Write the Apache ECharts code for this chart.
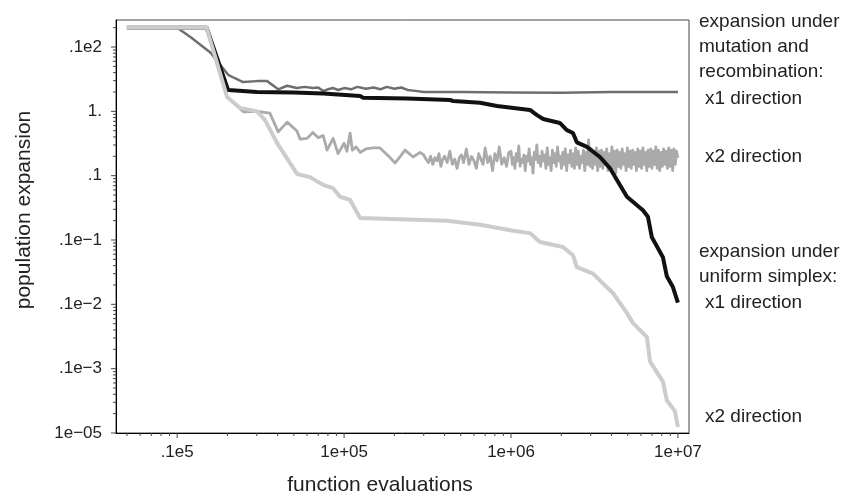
<!DOCTYPE html>
<html>
<head>
<meta charset="utf-8">
<script src="https://cdn.jsdelivr.net/npm/echarts@6/dist/echarts.min.js"></script>
<style>
html,body{margin:0;padding:0;background:#fff;}
#chart{width:846px;height:494px;}
</style>
</head>
<body>
<div id="chart"></div>
<script>
// ---- tick labels ----
const xTickValues = [1e4, 1e5, 1e6, 1e7];
const xTickLabels = ['.1e5', '1e+05', '1e+06', '1e+07'];
const yTickValues = [10, 1, 0.1, 0.01, 0.001, 1e-4, 1e-5];
const yTickLabels = ['.1e2', '1.', '.1', '.1e\u22121', '.1e\u22122', '.1e\u22123', '1e\u221205'];

// ---- series: x1 direction, mutation and recombination (dark gray) ----
const mutX1Evals = [5000, 10000, 12000, 15800, 20200, 22000, 24800, 30000, 34600, 40300, 45600, 52000,
  58000, 65000, 70000, 75000, 80000, 86000, 92000, 100000, 110000, 120000, 135000, 150000,
  165000, 180000, 200000, 220000, 240000, 260000, 300000, 500000, 1000000, 2000000, 4000000, 7000000, 10000000];
const mutX1Values = [20, 20, 14.3, 8.2, 3.7, 3.3, 2.85, 2.95, 2.95, 2.2, 2.5, 2.3,
  2.4, 2.3, 2.35, 2.07, 2.2, 2.3, 2.15, 2.3, 2.2, 2.4, 2.25, 2.35,
  2.2, 2.4, 2.25, 2.35, 2.15, 2.1, 2.0, 2.0, 1.97, 1.95, 2.0, 2.0, 2.0];

// ---- series: x2 direction, mutation and recombination (medium gray) ----
const mutX2EarlyEvals = [5000, 15000, 19900, 23800, 25000, 30000, 35900, 40300, 45600, 52000, 54600, 60000,
  65000, 70000, 75000, 79000, 86000, 92000, 100000, 104000, 108600, 112000, 118000, 125000,
  135000, 150000, 164000, 185000, 202000, 232000, 259000, 285000];
const mutX2EarlyValues = [20, 20, 1.67, 1.1, 0.98, 1.0, 0.94, 0.48, 0.68, 0.5, 0.37, 0.38,
  0.47, 0.39, 0.42, 0.25, 0.38, 0.22, 0.32, 0.24, 0.46, 0.25, 0.28, 0.23,
  0.26, 0.27, 0.27, 0.2, 0.157, 0.25, 0.195, 0.23];
const mutX2MidEvals = [3.0e5, 3.1e5, 3.2e5, 3.3e5, 3.4e5, 3.5e5, 3.6e5, 3.7e5, 3.8e5, 3.9e5,
  4.0e5, 4.15e5, 4.3e5, 4.45e5, 4.6e5, 4.75e5, 4.9e5, 5.05e5, 5.2e5, 5.4e5,
  5.6e5, 5.8e5, 6.0e5, 6.2e5, 6.4e5, 6.6e5, 6.8e5, 7.0e5, 7.25e5, 7.5e5,
  7.75e5, 8.0e5, 8.25e5, 8.5e5, 8.8e5, 9.1e5, 9.4e5, 9.7e5];
const mutX2MidValues = [0.21, 0.18, 0.16, 0.2, 0.15, 0.19, 0.17, 0.22, 0.14, 0.18,
  0.2, 0.16, 0.24, 0.15, 0.18, 0.13, 0.19, 0.21, 0.16, 0.26,
  0.15, 0.2, 0.17, 0.13, 0.22, 0.18, 0.15, 0.27, 0.16, 0.2,
  0.12, 0.22, 0.17, 0.28, 0.15, 0.19, 0.14, 0.23];
const mutX2LateEvals = [
  1.000e6, 1.018e6, 1.036e6, 1.055e6, 1.074e6, 1.093e6, 1.113e6, 1.133e6, 1.153e6, 1.174e6,
  1.195e6, 1.217e6, 1.239e6, 1.261e6, 1.284e6, 1.307e6, 1.330e6, 1.354e6, 1.378e6, 1.403e6,
  1.428e6, 1.454e6, 1.480e6, 1.507e6, 1.534e6, 1.562e6, 1.590e6, 1.619e6, 1.648e6, 1.678e6,
  1.708e6, 1.739e6, 1.770e6, 1.802e6, 1.834e6, 1.867e6, 1.901e6, 1.935e6, 1.970e6, 2.005e6,
  2.041e6, 2.078e6, 2.116e6, 2.154e6, 2.193e6, 2.232e6, 2.272e6, 2.313e6, 2.355e6, 2.397e6,
  2.440e6, 2.484e6, 2.529e6, 2.574e6, 2.621e6, 2.668e6, 2.716e6, 2.765e6, 2.814e6, 2.865e6,
  2.917e6, 2.969e6, 3.023e6, 3.077e6, 3.132e6, 3.189e6, 3.246e6, 3.305e6, 3.364e6, 3.425e6,
  3.486e6, 3.549e6, 3.613e6, 3.678e6, 3.744e6, 3.811e6, 3.880e6, 3.950e6, 4.021e6, 4.093e6,
  4.167e6, 4.242e6, 4.318e6, 4.396e6, 4.475e6, 4.555e6, 4.637e6, 4.721e6, 4.806e6, 4.892e6,
  4.980e6, 5.070e6, 5.161e6, 5.254e6, 5.349e6, 5.445e6, 5.543e6, 5.643e6, 5.744e6, 5.848e6,
  5.953e6, 6.060e6, 6.169e6, 6.280e6, 6.393e6, 6.508e6, 6.625e6, 6.745e6, 6.866e6, 6.990e6,
  7.115e6, 7.244e6, 7.374e6, 7.507e6, 7.642e6, 7.779e6, 7.919e6, 8.062e6, 8.207e6, 8.355e6,
  8.505e6, 8.658e6, 8.814e6, 8.973e6, 9.134e6, 9.299e6, 9.466e6, 9.636e6, 9.810e6, 1.0e7];
const mutX2LateValues = [
  0.24, 0.15, 0.19, 0.13, 0.22, 0.17, 0.29, 0.14, 0.18, 0.16,
  0.21, 0.12, 0.2, 0.17, 0.26, 0.15, 0.19, 0.11, 0.23, 0.18,
  0.3, 0.16, 0.2, 0.14, 0.24, 0.17, 0.21, 0.13, 0.27, 0.15,
  0.19, 0.12, 0.25, 0.16, 0.22, 0.14, 0.28, 0.17, 0.2, 0.13,
  0.23, 0.15, 0.26, 0.12, 0.21, 0.16, 0.25, 0.14, 0.22, 0.13,
  0.27, 0.15, 0.24, 0.13, 0.2, 0.16, 0.25, 0.12, 0.23, 0.15,
  0.36, 0.14, 0.26, 0.13, 0.22, 0.15, 0.27, 0.12, 0.24, 0.14,
  0.25, 0.13, 0.23, 0.15, 0.26, 0.12, 0.22, 0.14, 0.28, 0.13,
  0.24, 0.11, 0.25, 0.14, 0.23, 0.13, 0.26, 0.15, 0.22, 0.12,
  0.27, 0.14, 0.24, 0.13, 0.25, 0.15, 0.23, 0.12, 0.26, 0.14,
  0.24, 0.13, 0.27, 0.15, 0.23, 0.12, 0.25, 0.14, 0.26, 0.13,
  0.24, 0.15, 0.28, 0.13, 0.25, 0.12, 0.23, 0.14, 0.26, 0.15,
  0.24, 0.13, 0.27, 0.14, 0.25, 0.12, 0.26, 0.15, 0.24, 0.19];

// ---- series: x1 direction, uniform simplex (black) ----
const uniX1Evals = [5000, 15000, 20200, 30000, 50000, 74900, 124700, 130000, 238000, 431000, 450000,
  652000, 824000, 1300000, 1430000, 1560000, 1960000, 2160000, 2350000, 2480000, 2850000,
  3410000, 3920000, 4500000, 4950000, 6170000, 6610000, 6980000, 8130000, 8590000, 9300000, 10000000];
const uniX1Values = [20, 20, 2.14, 2.0, 1.97, 1.9, 1.73, 1.63, 1.59, 1.5, 1.45,
  1.36, 1.21, 1.05, 0.875, 0.76, 0.66, 0.51, 0.46, 0.33, 0.28,
  0.195, 0.13, 0.071, 0.047, 0.029, 0.023, 0.011, 0.0054, 0.0027, 0.0019, 0.00106];

// ---- series: x2 direction, uniform simplex (light gray) ----
const uniX2Evals = [5000, 15000, 19900, 23800, 30100, 33600, 39700, 47500, 52300, 62500, 74900, 85900,
  94600, 108600, 124700, 414000, 652000, 1030000, 1300000, 1490000, 2050000, 2350000, 2480000,
  3100000, 3560000, 4080000, 4950000, 5380000, 6520000, 6800000, 8130000, 8590000, 9590000, 10000000];
const uniX2Values = [20, 20, 1.67, 1.13, 1.0, 0.73, 0.32, 0.157, 0.106, 0.095, 0.072, 0.064,
  0.047, 0.042, 0.022, 0.020, 0.0173, 0.0139, 0.0128, 0.0093, 0.0078, 0.0058, 0.0038,
  0.003, 0.0021, 0.0015, 0.00073, 0.00051, 0.00031, 0.00013, 0.000063, 0.000032, 0.000022, 0.0000125];

// ---- axis extents ----
const xMin = 4300, xMax = 11650000;
const yMin = 1e-5, yMax = 26.3;

function zip(xs, ys) {
  const n = Math.min(xs.length, ys.length);
  const out = [];
  for (let i = 0; i < n; i++) out.push([xs[i], ys[i]]);
  return out;
}
function labelFor(values, labels) {
  return function (v) {
    for (let i = 0; i < values.length; i++) {
      if (Math.abs(Math.log10(v) - Math.log10(values[i])) < 1e-6) return labels[i];
    }
    return '';
  };
}

// tick mark positions (decades + 2..9 minors), drawn through the axes' scales
const xTicks = [], yTicks = [];
for (let n = 3; n <= 7; n++) {
  for (let k = 1; k <= 9; k++) {
    const v = k * Math.pow(10, n);
    if (v >= xMin && v <= xMax) xTicks.push([v, 1, k === 1 ? 1 : 0]);
  }
}
for (let n = -5; n <= 1; n++) {
  for (let k = 1; k <= 9; k++) {
    const v = k * Math.pow(10, n);
    if (v >= yMin * 0.999 && v <= yMax) yTicks.push([xMin, v, k === 1 ? 1 : 0]);
  }
}

const FONT = 'Liberation Sans';
const chart = echarts.init(document.getElementById('chart'));

function lineSeries(name, data, color, width) {
  return {
    name: name, type: 'line', data: data, showSymbol: false, symbol: 'none',
    lineStyle: { color: color, width: width, join: 'round' },
    itemStyle: { color: color }, silent: true, animation: false
  };
}

const mutX2Data = zip(mutX2EarlyEvals, mutX2EarlyValues)
  .concat(zip(mutX2MidEvals, mutX2MidValues))
  .concat(zip(mutX2LateEvals, mutX2LateValues));

chart.setOption({
  backgroundColor: '#fff',
  animation: false,
  grid: { left: 116, top: 20, right: 157, bottom: 61, show: true, borderColor: '#444', borderWidth: 1, containLabel: false },
  xAxis: {
    type: 'log', min: xMin, max: xMax,
    axisLine: { show: true, lineStyle: { color: '#000', width: 1 } },
    axisTick: { show: false }, splitLine: { show: false }, minorTick: { show: false },
    axisLabel: { margin: 11, fontFamily: FONT, fontSize: 17, color: '#222', formatter: labelFor(xTickValues, xTickLabels), showMinLabel: true, showMaxLabel: true }
  },
  yAxis: {
    type: 'log', min: yMin, max: yMax,
    axisLine: { show: true, lineStyle: { color: '#000', width: 1 } },
    axisTick: { show: false }, splitLine: { show: false }, minorTick: { show: false },
    axisLabel: { margin: 14, fontFamily: FONT, fontSize: 17, color: '#222', formatter: labelFor(yTickValues, yTickLabels), showMinLabel: true, showMaxLabel: true }
  },
  series: [
    lineSeries('x1 mutation', zip(mutX1Evals, mutX1Values), '#6e6e6e', 2.5),
    lineSeries('x2 mutation', mutX2Data, '#aaaaaa', 2.8),
    lineSeries('x1 simplex', zip(uniX1Evals, uniX1Values), '#111111', 4),
    lineSeries('x2 simplex', zip(uniX2Evals, uniX2Values), '#cccccc', 4),
    {
      type: 'custom', silent: true, clip: false, data: xTicks,
      renderItem: function (params, api) {
        const cs = params.coordSys;
        const p = api.coord([api.value(0), api.value(1)]);
        const y0 = cs.y + cs.height;
        const len = api.value(2) ? 5 : 3;
        return { type: 'line', shape: { x1: p[0], y1: y0, x2: p[0], y2: y0 + len }, style: { stroke: '#444', lineWidth: 1 } };
      }
    },
    {
      type: 'custom', silent: true, clip: false, data: yTicks,
      renderItem: function (params, api) {
        const cs = params.coordSys;
        const p = api.coord([api.value(0), api.value(1)]);
        const len = api.value(2) ? 5 : 3;
        return { type: 'line', shape: { x1: cs.x, y1: p[1], x2: cs.x - len, y2: p[1] }, style: { stroke: '#444', lineWidth: 1 } };
      }
    }
  ],
  graphic: [
    { type: 'text', x: 380, y: 485, style: { text: 'function evaluations', font: '21px ' + FONT, fill: '#222', textAlign: 'center', textVerticalAlign: 'middle', align: 'center', verticalAlign: 'middle' } },
    { type: 'text', x: 24, y: 210, rotation: Math.PI / 2, style: { text: 'population expansion', font: '21px ' + FONT, fill: '#222', textAlign: 'center', textVerticalAlign: 'middle', align: 'center', verticalAlign: 'middle' } },
    { type: 'text', x: 699, y: 22, style: { text: 'expansion under', font: '19px ' + FONT, fill: '#222', textVerticalAlign: 'middle', verticalAlign: 'middle' } },
    { type: 'text', x: 699, y: 47, style: { text: 'mutation and', font: '19px ' + FONT, fill: '#222', textVerticalAlign: 'middle', verticalAlign: 'middle' } },
    { type: 'text', x: 699, y: 72, style: { text: 'recombination:', font: '19px ' + FONT, fill: '#222', textVerticalAlign: 'middle', verticalAlign: 'middle' } },
    { type: 'text', x: 705, y: 99, style: { text: 'x1 direction', font: '19px ' + FONT, fill: '#222', textVerticalAlign: 'middle', verticalAlign: 'middle' } },
    { type: 'text', x: 705, y: 157, style: { text: 'x2 direction', font: '19px ' + FONT, fill: '#222', textVerticalAlign: 'middle', verticalAlign: 'middle' } },
    { type: 'text', x: 699, y: 252, style: { text: 'expansion under', font: '19px ' + FONT, fill: '#222', textVerticalAlign: 'middle', verticalAlign: 'middle' } },
    { type: 'text', x: 699, y: 277, style: { text: 'uniform simplex:', font: '19px ' + FONT, fill: '#222', textVerticalAlign: 'middle', verticalAlign: 'middle' } },
    { type: 'text', x: 705, y: 303, style: { text: 'x1 direction', font: '19px ' + FONT, fill: '#222', textVerticalAlign: 'middle', verticalAlign: 'middle' } },
    { type: 'text', x: 705, y: 417, style: { text: 'x2 direction', font: '19px ' + FONT, fill: '#222', textVerticalAlign: 'middle', verticalAlign: 'middle' } }
  ]
});
</script>
</body>
</html>
